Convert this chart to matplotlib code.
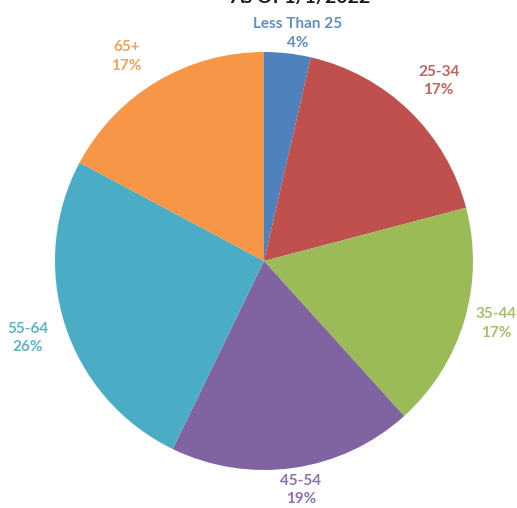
import numpy as np
import matplotlib.pyplot as plt

# Age groups and their shares
groups = ["Less Than 25", "25-34", "35-44", "45-54", "55-64", "65+"]
shares = [3.6, 17.3, 17.4, 18.9, 25.6, 17.2]
pct_labels = ["4%", "17%", "17%", "19%", "26%", "17%"]
colors = ["#4F81BD", "#C0504D", "#9BBB59", "#8064A2", "#4BACC6", "#F79646"]
title = "As Of 1/1/2022"

W, H = 517, 508
fig = plt.figure(figsize=(W / 100, H / 100), dpi=100)
ax = fig.add_axes([0, 0, 1, 1])

cx, cy, r = 264, H - 261, 209
wedges, _ = ax.pie(shares, colors=colors, startangle=90, counterclock=False,
                   center=(cx, cy), radius=r, frame=True,
                   wedgeprops=dict(linewidth=0))
ax.set_xlim(0, W)
ax.set_ylim(0, H)
ax.set_aspect("equal")
ax.axis("off")

# Label placement (fraction of radius, angle tweak in degrees) to mimic Excel "best fit"
dist = [1.10, 1.20, 1.15, 1.11, 1.19, 1.18]
shift = [-2.0, 0.0, 1.5, 1.0, 0.0, 3.0]
for w, g, p, c, d, s in zip(wedges, groups, pct_labels, colors, dist, shift):
    ang = np.deg2rad((w.theta1 + w.theta2) / 2 + s)
    x = cx + d * r * np.cos(ang)
    y = cy + d * r * np.sin(ang)
    ax.text(x, y, f"{g}\n{p}", ha="center", va="center", color=c, alpha=0.9,
            fontsize=11, fontweight="bold", family="Lato", linespacing=1.4)

ax.text(300, H - 3, title, ha="center", va="baseline", fontsize=14,
        fontweight="bold", family="Lato", color="#1a1a1a")

fig.savefig("out.png", dpi=100)
